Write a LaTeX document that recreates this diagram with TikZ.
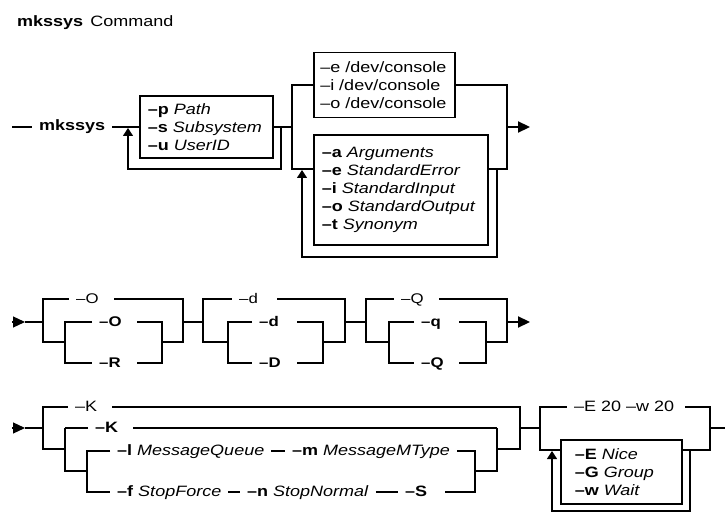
\documentclass[tikz,border=0pt]{standalone}
\usepackage{fontspec}
\setmainfont{Liberation Sans}[FakeStretch=1.2]
\usetikzlibrary{arrows.meta, positioning}
\tikzstyle{rail} = [line width=1.2pt]
\tikzstyle{dflt} = [line width=2.2pt]
\tikzstyle{lbl} = [anchor=west, inner xsep=7pt, inner ysep=0pt, text height=11pt, text depth=3pt, font=\fontsize{15}{18}\selectfont]
\tikzstyle{lbls} = [lbl, font=\fontsize{14}{17}\selectfont, text width=31pt, align=left]
\tikzstyle{optbox} = [draw, line width=1.5pt, anchor=west, inner xsep=8pt, align=left, font=\fontsize{15}{18}\selectfont]
\tikzstyle{fwd} = [-{Triangle[length=12pt, width=11pt]}]
\tikzstyle{back} = [-{Triangle[length=8pt, width=10pt]}, shorten >=1pt]

\begin{document}
\begin{tikzpicture}[x=1pt, y=-1pt]
\useasboundingbox (0,0) rectangle (725,513);

\node (title) [anchor=west, inner sep=0pt, font=\fontsize{15}{18}\selectfont] at (17,23) {\textbf{mkssys}\hspace{7pt}Command};

% first line: mkssys and its options
\coordinate (start1) at (12,127);
\node (cmd) [lbl] at (32,127) {\textbf{mkssys}};
\node (optA) [optbox, text width=117pt, minimum height=62pt] at (139,127) {\textbf{–p} \textit{Path}\\ \textbf{–s} \textit{Subsystem}\\ \textbf{–u} \textit{UserID}};
\node (optB) [optbox, inner xsep=6.5pt, text width=128pt, minimum height=65pt] at (313,85) {–e /dev/console\\ –i /dev/console\\ –o /dev/console};
\node (optC) [optbox, text width=158pt, minimum height=110pt] at (313,190) {\textbf{–a} \textit{Arguments}\\ \textbf{–e} \textit{StandardError}\\ \textbf{–i} \textit{StandardInput}\\ \textbf{–o} \textit{StandardOutput}\\ \textbf{–t} \textit{Synonym}};
\coordinate (l1L) at (128,127);
\coordinate (l1R) at (281,127);
\coordinate (g2L) at (292,127);
\coordinate (g2B) at (292,169);
\coordinate (g2R) at (507,127);
\coordinate (l2L) at (302,169);
\coordinate (l2R) at (497,169);
\coordinate (end1) at (530,127);
\draw [dflt] (start1) -- (cmd.west);
\draw [dflt] (cmd.east) -- (optA.west);
\draw [dflt] (optA.east) -- (g2L);
\draw [rail, back] (l1R) -- ++(0,42) -| (l1L);
\draw [dflt] (g2L) |- (optB.west);
\draw [dflt] (optB.east) -| (g2R);
\draw [dflt, fwd] (g2R) -- (end1);
\draw [rail] (g2L) -- (g2B) -- (g2B -| optC.west);
\draw [rail] (optC.east |- g2B) -| (g2R);
\draw [rail, back] (l2R) -- ++(0,88) -| (l2L);

% second line: -O -d -Q
\coordinate (start2) at (12,322);
\coordinate (tip2) at (25,322);
\coordinate (aL) at (43,322);
\coordinate (aiL) at (65,342);
\coordinate (aiR) at (162,342);
\coordinate (aR) at (183,322);
\coordinate (bL) at (203,322);
\coordinate (biL) at (228,342);
\coordinate (biR) at (323,342);
\coordinate (bR) at (345,322);
\coordinate (cL) at (366,322);
\coordinate (ciL) at (389,342);
\coordinate (ciR) at (486,342);
\coordinate (cR) at (507,322);
\coordinate (end2) at (530,322);
\node (aTop) [lbls] at (69,299) {–O};
\node (aO) [lbls] at (92,322) {\textbf{–O}};
\node (aRr) [lbls] at (92,363) {\textbf{–R}};
\node (bTop) [lbls] at (232,299) {–d};
\node (bd) [lbls] at (252,322) {\textbf{–d}};
\node (bD) [lbls] at (252,363) {\textbf{–D}};
\node (cTop) [lbls] at (394,299) {–Q};
\node (cq) [lbls] at (414,322) {\textbf{–q}};
\node (cQ) [lbls] at (414,363) {\textbf{–Q}};
\draw [rail, fwd] (start2) -- (tip2);
\draw [dflt] (tip2) -- (aL);
\draw [dflt] (aL) |- (aTop.west);
\draw [dflt] (aTop.east) -| (aR);
\draw [rail] (aL) |- (aiL);
\draw [rail] (aO.west) -| (aiL) |- (aRr.west);
\draw [rail] (aO.east) -| (aiR) |- (aRr.east);
\draw [rail] (aiR) -| (aR);
\draw [dflt] (aR) -- (bL);
\draw [dflt] (bL) |- (bTop.west);
\draw [dflt] (bTop.east) -| (bR);
\draw [rail] (bL) |- (biL);
\draw [rail] (bd.west) -| (biL) |- (bD.west);
\draw [rail] (bd.east) -| (biR) |- (bD.east);
\draw [rail] (biR) -| (bR);
\draw [dflt] (bR) -- (cL);
\draw [dflt] (cL) |- (cTop.west);
\draw [dflt] (cTop.east) -| (cR);
\draw [rail] (cL) |- (ciL);
\draw [rail] (cq.west) -| (ciL) |- (cQ.west);
\draw [rail] (cq.east) -| (ciR) |- (cQ.east);
\draw [rail] (ciR) -| (cR);
\draw [dflt, fwd] (cR) -- (end2);

% third line: -K and the priority options
\coordinate (start3) at (12,428);
\coordinate (tip3) at (25,428);
\coordinate (kL) at (43,428);
\coordinate (k2L) at (65,449);
\coordinate (k3L) at (87,471);
\coordinate (k3R) at (475,471);
\coordinate (k2T) at (497,428);
\coordinate (k2R) at (497,449);
\coordinate (kR) at (520,428);
\coordinate (eL) at (540,428);
\coordinate (eB) at (540,450);
\coordinate (eR) at (710,428);
\coordinate (l3L) at (552,450);
\coordinate (l3R) at (690,450);
\coordinate (end3) at (725,428);
\node (kTop) [lbl, text width=30pt, align=left] at (68,407) {–K};
\node (kSec) [lbl, text width=31pt, align=left] at (88,428) {\textbf{–K}};
\node (mq) [lbl] at (110,451) {\textbf{–l} \textit{MessageQueue}};
\node (mt) [lbl] at (285,451) {\textbf{–m} \textit{MessageMType}};
\node (sf) [lbl] at (110,492) {\textbf{–f} \textit{StopForce}};
\node (sn) [lbl] at (240,492) {\textbf{–n} \textit{StopNormal}};
\node (ss) [lbl, text width=33pt, align=left] at (398,492) {\textbf{–S}};
\node (eTop) [lbl, text width=104pt, align=left] at (567,407) {–E 20 –w 20};
\node (optD) [optbox, inner xsep=14pt, text width=93pt, minimum height=64pt] at (560,472) {\textbf{–E} \textit{Nice}\\ \textbf{–G} \textit{Group}\\ \textbf{–w} \textit{Wait}};
\draw [rail, fwd] (start3) -- (tip3);
\draw [dflt] (tip3) -- (kL);
\draw [dflt] (kL) |- (kTop.west);
\draw [dflt] (kTop.east) -| (kR);
\draw [rail] (kL) |- (k2L);
\draw [dflt] (kSec.west) -- (kSec.west -| k2L);
\draw [rail] (kSec.west -| k2L) -- (k2L) |- (k3L);
\draw [rail] (mq.west) -| (k3L) |- (sf.west);
\draw [rail] (mq.east) -- (mt.west);
\draw [rail] (sf.east) -- (sn.west);
\draw [rail] (sn.east) -- (ss.west);
\draw [rail] (mt.east) -| (k3R) |- (ss.east);
\draw [dflt] (kSec.east) -- (k2T);
\draw [rail] (k2T) -- (k2R) |- (k3R);
\draw [rail] (k2R) -| (kR);
\draw [dflt] (kR) -- (eL);
\draw [dflt] (eL) |- (eTop.west);
\draw [dflt] (eTop.east) -| (eR);
\draw [dflt] (eR) -- (end3);
\draw [rail] (eL) -- (eB) -- (eB -| optD.west);
\draw [rail] (optD.east |- eB) -| (eR);
\draw [rail, back] (l3R) -- ++(0,61) -| (l3L);
\end{tikzpicture}
\end{document}
